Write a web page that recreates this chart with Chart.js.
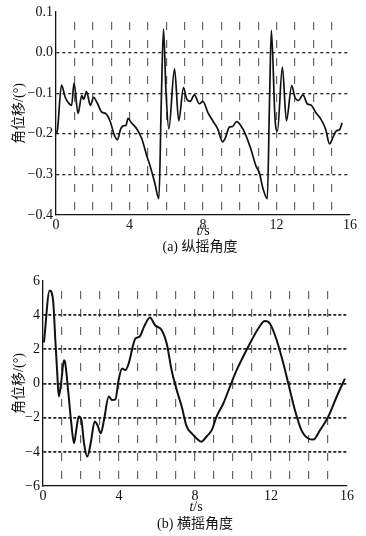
<!DOCTYPE html>
<html>
<head>
<meta charset="utf-8">
<script src="https://cdn.jsdelivr.net/npm/chart.js@4/dist/chart.umd.min.js"></script>
<style>
  body { margin: 0; background: #fff; width: 366px; height: 536px; position: relative; overflow: hidden; }
  .box { position: absolute; left: 0; width: 366px; }
  .txt { position: absolute; font-family: 'Liberation Serif', 'Noto Sans CJK SC', serif; font-size: 14px; color: #111;
         transform: translate(-50%, -50%); white-space: nowrap; }
</style>
</head>
<body>
<div class="box" style="top:0;height:262px"><canvas id="chartA"></canvas></div>
<div class="box" style="top:262px;height:274px"><canvas id="chartB"></canvas></div>
<div class="txt" style="left:203px;top:231px"><i>t</i>/s</div>
<div class="txt" style="left:200px;top:245px">(a) 纵摇角度</div>
<div class="txt" style="left:196px;top:507px"><i>t</i>/s</div>
<div class="txt" style="left:195px;top:522px">(b) 横摇角度</div>
<script>
// (a) pitch angle
var tA = [0, 0.08, 0.3, 0.5, 0.7, 0.85, 0.98, 1.2, 1.4, 1.5, 1.66, 1.87, 2.05, 2.23, 2.5, 2.7, 2.97, 3.15, 3.34, 3.52, 3.7, 3.8, 3.92,
  4.1, 4.4, 4.67, 4.94, 5.12, 5.37, 5.6, 5.73, 5.85, 5.98, 6.14, 6.45, 6.68, 6.94, 7.1, 7.3, 7.53, 7.8, 8.0, 8.26, 8.53, 8.8,
  9.07, 9.2, 9.43, 9.6, 9.83, 10.06, 10.3, 10.6, 10.88, 11.06, 11.27, 11.5, 11.62, 11.72, 11.92, 12.05, 12.32, 12.54, 12.83,
  13.0, 13.2, 13.44, 13.67, 13.9, 14.13, 14.4, 14.67, 14.89, 15.07, 15.25, 15.43, 15.57];
var yA = [-0.2, -0.19, -0.08, -0.11, -0.125, -0.13, -0.075, -0.15, -0.106, -0.115, -0.096, -0.13, -0.11, -0.123, -0.147, -0.15,
  -0.172, -0.2, -0.215, -0.188, -0.18, -0.18, -0.162, -0.173, -0.188, -0.212, -0.254, -0.279, -0.32, -0.36, -0.12, 0.058,
  -0.09, -0.188, -0.04, -0.168, -0.086, -0.113, -0.12, -0.104, -0.126, -0.12, -0.147, -0.168, -0.188, -0.22, -0.212, -0.184,
  -0.182, -0.17, -0.18, -0.2, -0.237, -0.279, -0.295, -0.336, -0.36, -0.12, 0.055, -0.163, -0.193, -0.036, -0.168, -0.081,
  -0.11, -0.118, -0.104, -0.126, -0.13, -0.147, -0.163, -0.188, -0.225, -0.209, -0.193, -0.19, -0.173];

// (b) roll angle
var tB = [0.05, 0.35, 0.53, 0.65, 0.75, 0.83, 0.97, 1.1, 1.15, 1.32, 1.49, 1.63, 1.75, 1.88, 2.02, 2.16, 2.33, 2.51, 2.72, 2.87,
  3.04, 3.21, 3.46, 3.63, 3.81, 3.98, 4.16, 4.33, 4.51, 4.74, 4.86, 5.09, 5.32, 5.63, 5.9, 6.25, 6.51, 6.77, 7.04, 7.3, 7.56,
  7.83, 8.09, 8.32, 8.61, 8.88, 9.14, 9.49, 9.84, 10.19, 10.54, 10.98, 11.33, 11.68, 11.95, 12.3, 12.65, 12.91, 13.26, 13.6,
  13.96, 14.23, 14.58, 15.02, 15.46, 15.89];
var yB = [2.4, 5.45, 4.87, 2.53, 0.58, -0.76, 0.2, 1.36, 1.3, -0.39, -2.34, -3.5, -2.73, -1.93, -2.14, -3.5, -4.28, -3.5, -2.22,
  -2.44, -2.92, -2.14, -0.76, -0.97, -0.93, 0.2, 0.88, 0.78, 1.17, 2.24, 2.63, 2.75, 3.33, 3.86, 3.41, 3.12, 2.34, 0.78, -0.39,
  -1.35, -2.51, -2.92, -3.22, -3.41, -3.1, -2.73, -1.93, -1.17, -0.18, 0.78, 1.58, 2.53, 3.22, 3.66, 3.5, 2.53, 1.17, 0, -1.56,
  -2.73, -3.22, -3.28, -2.73, -1.93, -0.76, 0.29];

var xLabels = [0, 4, 8, 12, 16];
var yTicksA = [0.1, 0, -0.1, -0.2, -0.3, -0.4];
var yTicksB = [6, 4, 2, 0, -2, -4, -6];
var yTitle = '角位移/(°)';

var serif = "'Liberation Serif', 'Noto Sans CJK SC', serif";

function pts(t, y) {
  var out = [];
  for (var i = 0; i < t.length; i++) out.push({x: t[i], y: y[i]});
  return out;
}
function minus(s) { return String(s).replace('-', '\u2212'); }

function makeChart(id, t, y, yTicks, opt) {
  var yMin = yTicks[yTicks.length - 1], yMax = yTicks[0];
  return new Chart(document.getElementById(id).getContext('2d'), {
    type: 'line',
    data: {
      datasets: [{
        data: pts(t, y),
        borderColor: '#111',
        borderWidth: opt.lineWidth,
        pointRadius: 0,
        cubicInterpolationMode: 'monotone',
        fill: false
      }]
    },
    options: {
      responsive: true,
      maintainAspectRatio: false,
      animation: false,
      layout: {padding: {top: opt.padTop, right: opt.padRight, left: 0, bottom: 0}},
      plugins: {legend: {display: false}, tooltip: {enabled: false}},
      scales: {
        x: {
          type: 'linear', min: 0, max: 16,
          afterBuildTicks: function (s) {
            s.ticks = [];
            for (var i = 0; i <= 16; i++) s.ticks.push({value: i});
          },
          afterFit: function (s) { s.height = opt.xHeight; },
          ticks: {
            autoSkip: false, maxRotation: 0, padding: 2, color: '#111',
            font: {family: serif, size: 14},
            callback: function (v) { return xLabels.indexOf(v) >= 0 ? String(v) : ''; }
          },
          grid: {
            drawTicks: false, lineWidth: 1.2,
            color: function (c) { var v = c.tick && c.tick.value; return (v > 0 && v < 16) ? '#666' : 'rgba(0,0,0,0)'; }
          },
          border: {display: true, color: '#111', width: 1.3, dash: [8, 10], dashOffset: 8}
        },
        y: {
          min: yMin, max: yMax,
          afterBuildTicks: function (s) {
            s.ticks = yTicks.map(function (v) { return {value: v}; });
          },
          afterFit: function (s) { s.width = opt.yWidth; },
          ticks: {
            padding: 3, color: '#111',
            font: {family: serif, size: 14},
            callback: opt.fmt
          },
          grid: {
            drawTicks: false, lineWidth: opt.hWidth,
            color: function (c) { var v = c.tick && c.tick.value; return (v > yMin && v < yMax) ? '#222' : 'rgba(0,0,0,0)'; }
          },
          border: {display: true, color: '#111', width: 1.3, dash: opt.hDash},
          title: {
            display: true, text: yTitle, color: '#111',
            font: {family: serif, size: 14},
            padding: {top: 11, bottom: 0}
          }
        }
      }
    }
  });
}

makeChart('chartA', tA, yA, yTicksA, {
  padTop: 12, padRight: 16, xHeight: 47, yWidth: 56, lineWidth: 1.7, hWidth: 1.3, hDash: [3, 3],
  fmt: function (v) { return minus(v.toFixed(1)); }
});
makeChart('chartB', tB, yB, yTicksB, {
  padTop: 19, padRight: 19, xHeight: 50, yWidth: 43, lineWidth: 2, hWidth: 1.8, hDash: [3, 2],
  fmt: function (v) { return minus(v); }
});
</script>
</body>
</html>
